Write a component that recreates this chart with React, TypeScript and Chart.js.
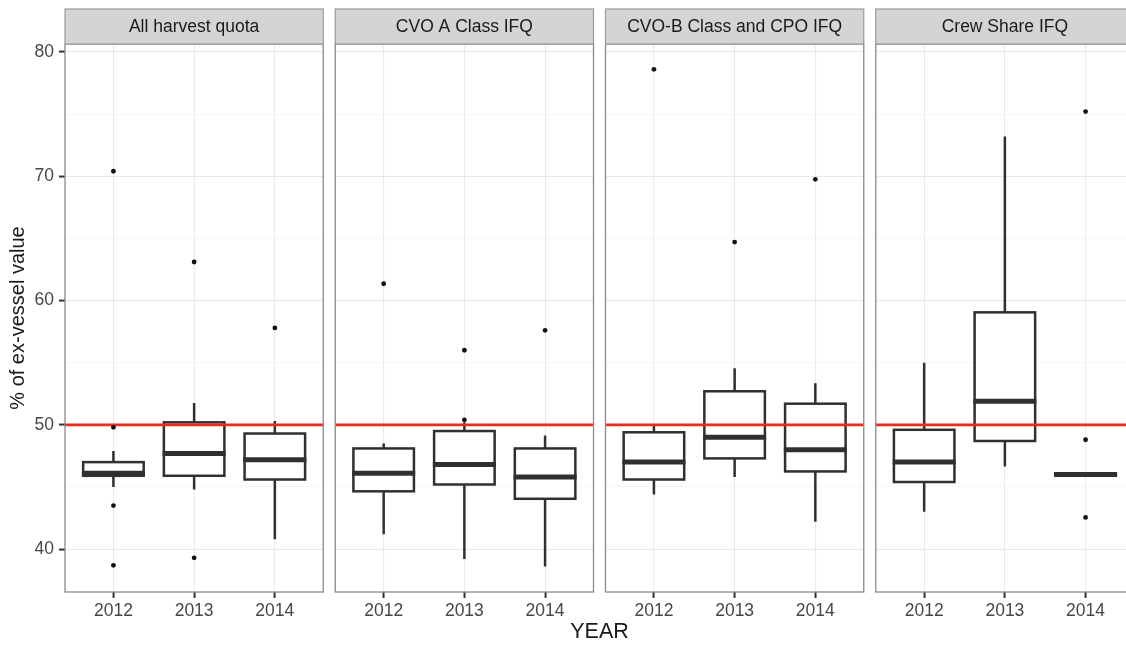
import React, { useEffect, useRef } from 'react';
import { Chart, registerables } from 'chart.js';

Chart.register(...registerables);

// ---------- data ----------
const years = ['2012', '2013', '2014'];
const panels = ['All harvest quota', 'CVO A Class IFQ', 'CVO-B Class and CPO IFQ', 'Crew Share IFQ'];

// per panel, per year
const whiskerLow = [
  [45.0, 44.8, 40.8],
  [41.2, 39.2, 38.6],
  [44.4, 45.8, 42.2],
  [43.0, 46.65, 46.0],
];
const q1 = [
  [45.9, 45.9, 45.6],
  [44.65, 45.2, 44.05],
  [45.6, 47.3, 46.25],
  [45.4, 48.7, 45.95],
];
const median = [
  [46.1, 47.7, 47.2],
  [46.1, 46.8, 45.8],
  [47.0, 49.0, 48.0],
  [47.0, 51.9, 46.0],
];
const q3 = [
  [47.0, 50.2, 49.3],
  [48.1, 49.5, 48.1],
  [49.4, 52.7, 51.7],
  [49.6, 59.05, 46.05],
];
const whiskerHigh = [
  [47.9, 51.75, 50.3],
  [48.5, 50.2, 49.15],
  [49.95, 54.55, 53.35],
  [55.0, 73.2, 46.0],
];
const outliers = [
  [[70.4, 49.8, 43.5, 38.7], [63.1, 39.3], [57.8]],
  [[61.35], [56.0, 50.4], [57.6]],
  [[78.6], [64.7], [69.75]],
  [[], [], [75.2, 48.8, 42.55]],
];
const referenceValue = 50;
const yTickValues = [40, 45, 50, 55, 60, 65, 70, 75, 80];
const yMin = 36.55;
const yMax = 80.64;

// ---------- layout helpers ----------
const PANEL_SPAN = 3.2; // 0.6 expansion on both sides of 3 categories
const PANEL_GAP = 0.1487;
const panelOffset = (p: number) => p * (PANEL_SPAN + PANEL_GAP);
const panelLeft = (p: number) => panelOffset(p) + 0.4;
const panelRight = (p: number) => panelOffset(p) + 0.4 + PANEL_SPAN;
const catX = (p: number, i: number) => panelOffset(p) + i + 1;

const FONT = 'Liberation Sans, Arial, Helvetica, sans-serif';
const BOX_COLOR = '#303030';

const facetPlugin = {
  id: 'facets',
  beforeDatasetsDraw(chart: any) {
    const { ctx, chartArea, scales } = chart;
    const x = scales.x;
    const y = scales.y;
    ctx.save();
    // blank the gaps between panels
    ctx.fillStyle = '#ffffff';
    for (let p = 1; p < panels.length; p++) {
      const l = x.getPixelForValue(panelRight(p - 1));
      const r = x.getPixelForValue(panelLeft(p));
      ctx.fillRect(l, chartArea.top - 1, r - l, chartArea.bottom - chartArea.top + 2);
    }
    // boxplots
    const half = x.getPixelForValue(0.375) - x.getPixelForValue(0);
    for (let p = 0; p < panels.length; p++) {
      for (let i = 0; i < years.length; i++) {
        const cx = x.getPixelForValue(catX(p, i));
        const yLo = y.getPixelForValue(whiskerLow[p][i]);
        const yQ1 = y.getPixelForValue(q1[p][i]);
        const yMed = y.getPixelForValue(median[p][i]);
        const yQ3 = y.getPixelForValue(q3[p][i]);
        const yHi = y.getPixelForValue(whiskerHigh[p][i]);
        ctx.strokeStyle = BOX_COLOR;
        ctx.lineWidth = 2.5;
        ctx.lineCap = 'butt';
        ctx.beginPath();
        ctx.moveTo(cx, yHi);
        ctx.lineTo(cx, yQ3);
        ctx.moveTo(cx, yQ1);
        ctx.lineTo(cx, yLo);
        ctx.stroke();
        ctx.fillStyle = '#ffffff';
        ctx.fillRect(cx - half, yQ3, 2 * half, yQ1 - yQ3);
        ctx.lineJoin = 'miter';
        ctx.strokeRect(cx - half, yQ3, 2 * half, yQ1 - yQ3);
        ctx.lineWidth = 5;
        ctx.beginPath();
        ctx.moveTo(cx - half - 1.25, yMed);
        ctx.lineTo(cx + half + 1.25, yMed);
        ctx.stroke();
      }
    }
    ctx.restore();
  },
  afterDatasetsDraw(chart: any) {
    const { ctx, chartArea, scales } = chart;
    const x = scales.x;
    ctx.save();
    ctx.strokeStyle = '#8a8a8a';
    ctx.lineWidth = 1.3;
    for (let p = 0; p < panels.length; p++) {
      const l = x.getPixelForValue(panelLeft(p));
      const r = x.getPixelForValue(panelRight(p));
      ctx.strokeRect(l, chartArea.top, r - l, chartArea.bottom - chartArea.top);
    }
    ctx.restore();
  },
  afterDraw(chart: any) {
    const { ctx, chartArea, scales } = chart;
    const x = scales.x;
    const stripTop = 9;
    ctx.save();
    for (let p = 0; p < panels.length; p++) {
      const l = x.getPixelForValue(panelLeft(p));
      const r = x.getPixelForValue(panelRight(p));
      ctx.fillStyle = '#d4d4d4';
      ctx.fillRect(l, stripTop, r - l, chartArea.top - stripTop);
      ctx.strokeStyle = '#9a9a9a';
      ctx.lineWidth = 1.2;
      ctx.strokeRect(l, stripTop, r - l, chartArea.top - stripTop);
      ctx.fillStyle = '#1a1a1a';
      ctx.font = `17.5px ${FONT}`;
      ctx.textAlign = 'center';
      ctx.textBaseline = 'middle';
      ctx.fillText(panels[p], (l + r) / 2, (stripTop + chartArea.top) / 2 + 1);
    }
    ctx.restore();
  },
};

export default function App() {
  const canvasRef = useRef<HTMLCanvasElement | null>(null);

  useEffect(() => {
    if (!canvasRef.current) return;

    const refDatasets = panels.map((_, p) => ({
      type: 'line' as const,
      data: [
        { x: panelLeft(p), y: referenceValue },
        { x: panelRight(p), y: referenceValue },
      ],
      borderColor: '#f02a1c',
      borderWidth: 2.8,
      pointRadius: 0,
      fill: false,
      showLine: true,
      order: 1,
    }));

    const outlierPoints: { x: number; y: number }[] = [];
    outliers.forEach((panel, p) =>
      panel.forEach((vals, i) => vals.forEach((v) => outlierPoints.push({ x: catX(p, i), y: v })))
    );

    const xTickValues: number[] = [];
    panels.forEach((_, p) => years.forEach((__, i) => xTickValues.push(catX(p, i))));

    const chart = new Chart(canvasRef.current, {
      type: 'scatter',
      data: {
        datasets: [
          {
            type: 'scatter' as const,
            data: outlierPoints,
            pointRadius: 2.4,
            pointBackgroundColor: '#111111',
            pointBorderWidth: 0,
            order: 0,
          },
          ...refDatasets,
        ] as any,
      },
      options: {
        animation: false,
        responsive: false,
        devicePixelRatio: 1,
        layout: { padding: { top: 44, right: 6, left: 0, bottom: 0 } },
        plugins: {
          legend: { display: false },
          tooltip: { enabled: false },
        },
        scales: {
          x: {
            type: 'linear',
            min: panelLeft(0),
            max: panelRight(panels.length - 1),
            afterBuildTicks: (scale: any) => {
              scale.ticks = xTickValues.map((v) => ({ value: v }));
            },
            afterFit: (scale: any) => {
              scale.height = 55;
            },
            border: { display: false },
            grid: {
              color: '#ebebeb',
              lineWidth: 1.1,
              tickColor: '#333333',
              tickLength: 6,
              tickWidth: 2,
            },
            ticks: {
              autoSkip: false,
              maxRotation: 0,
              padding: 3,
              color: '#474747',
              font: { family: FONT, size: 17.5 },
              callback: (_v: any, index: number) => years[index % years.length],
            },
            title: {
              display: true,
              text: 'YEAR',
              color: '#1a1a1a',
              font: { family: FONT, size: 21.5 },
              padding: { top: 0, bottom: 2 },
            },
          },
          y: {
            type: 'linear',
            min: yMin,
            max: yMax,
            afterBuildTicks: (scale: any) => {
              scale.ticks = yTickValues.map((v) => ({ value: v }));
            },
            afterFit: (scale: any) => {
              scale.width = 65;
            },
            border: { display: false },
            grid: {
              color: (c: any) => (c.tick && c.tick.value % 10 === 0 ? '#e8e8e8' : '#f3f3f3'),
              lineWidth: (c: any) => (c.tick && c.tick.value % 10 === 0 ? 1.1 : 0.8),
              tickColor: (c: any) => (c.tick && c.tick.value % 10 === 0 ? '#333333' : 'rgba(0,0,0,0)'),
              tickLength: 6,
              tickWidth: 2,
            },
            ticks: {
              autoSkip: false,
              padding: 5,
              color: '#474747',
              font: { family: FONT, size: 17.5 },
              callback: (v: any) => (Number(v) % 10 === 0 ? String(v) : ''),
            },
            title: {
              display: true,
              text: '% of ex-vessel value',
              color: '#1a1a1a',
              font: { family: FONT, size: 20 },
              padding: { top: 6, bottom: 0 },
            },
          },
        },
      } as any,
      plugins: [facetPlugin],
    });

    return () => chart.destroy();
  }, []);

  return (
    <div
      style={{
        position: 'fixed',
        left: 0,
        top: 0,
        width: 1126,
        height: 647,
        overflow: 'hidden',
        background: '#ffffff',
      }}
    >
      <canvas ref={canvasRef} width={1140} height={647} style={{ display: 'block' }} />
    </div>
  );
}
